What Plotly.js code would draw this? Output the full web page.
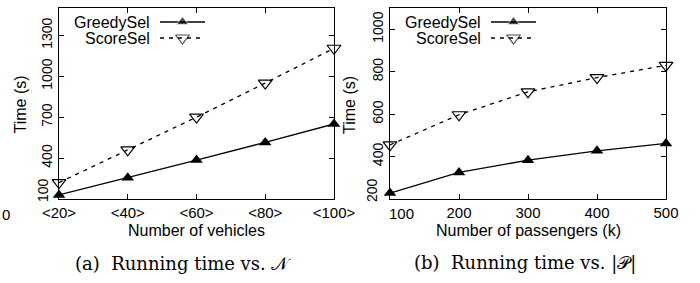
<!DOCTYPE html>
<html>
<head>
<meta charset="utf-8">
<script src="https://cdn.plot.ly/plotly-3.0.1.min.js"></script>
<style>
html,body{margin:0;padding:0;background:#fff;}
#chart{width:700px;height:283px;}
</style>
</head>
<body>
<div id="chart"></div>
<script>
// ---- data ----
const vehicleCats = ["<20>", "<40>", "<60>", "<80>", "<100>"];
const greedyVehicles = [130, 255, 385, 515, 650];
const scoreVehicles = [220, 460, 700, 950, 1205];

const passengerVals = [100, 200, 300, 400, 500];
const greedyPassengers = [228, 325, 383, 427, 462];
const scorePassengers = [455, 597, 705, 772, 830];

const yTicksA = [100, 400, 700, 1000, 1300];
const yTicksB = [200, 400, 600, 800, 1000];
const seriesNames = ["GreedySel", "ScoreSel"];
const captions = ["(a)  Running time vs. \uD835\uDCA9", "(b)  Running time vs. |\uD835\uDCAB|"];
const xTitles = ["Number of vehicles", "Number of passengers (k)"];
const yTitle = "Time (s)";

// ---- layout helpers (pixel geometry) ----
const W = 700, H = 283;
const px = v => v / W;
const py = v => 1 - v / H;
const FONT = "'Liberation Sans', Arial, Helvetica, sans-serif";
const lineW = 1.3;
const greedyMarker = {symbol: "triangle-up", size: 11, color: "#000"};
const scoreMarker = {symbol: "triangle-down-open", size: 12, color: "#000", line: {width: 1.2, color: "#000"}};
const dashStyle = "4px,5px";

const traces = [
  {x: vehicleCats, y: greedyVehicles, xaxis: "x", yaxis: "y", mode: "lines+markers", name: seriesNames[0],
   line: {color: "#000", width: lineW}, marker: greedyMarker, showlegend: false, cliponaxis: false},
  {x: vehicleCats, y: scoreVehicles, xaxis: "x", yaxis: "y", mode: "lines+markers", name: seriesNames[1],
   line: {color: "#000", width: lineW, dash: dashStyle}, marker: scoreMarker, showlegend: false, cliponaxis: false},
  {x: passengerVals, y: greedyPassengers, xaxis: "x2", yaxis: "y2", mode: "lines+markers", name: seriesNames[0],
   line: {color: "#000", width: lineW}, marker: greedyMarker, showlegend: false, cliponaxis: false},
  {x: passengerVals, y: scorePassengers, xaxis: "x2", yaxis: "y2", mode: "lines+markers", name: seriesNames[1],
   line: {color: "#000", width: lineW, dash: dashStyle}, marker: scoreMarker, showlegend: false, cliponaxis: false}
];

// legend samples drawn on a hidden pixel-space overlay axis
const legendSpec = [
  {textRight: 152, x0: 160, x1: 205, rows: [22, 38]},
  {textRight: 483, x0: 491, x1: 536, rows: [22, 38]}
];
const annotations = [];
legendSpec.forEach(ls => {
  ls.rows.forEach((ry, i) => {
    const mk = i === 0 ? greedyMarker : scoreMarker;
    traces.push({
      x: [ls.x0, (ls.x0 + ls.x1) / 2, ls.x1], y: [ry, ry, ry], xaxis: "x3", yaxis: "y3",
      mode: "lines+markers", showlegend: false, hoverinfo: "skip",
      line: {color: "#000", width: lineW, dash: i === 0 ? "solid" : dashStyle},
      marker: Object.assign({}, mk, {size: [0, mk.size, 0]})
    });
    annotations.push({xref: "paper", yref: "paper", x: px(ls.textRight), y: py(ry), xanchor: "right", yanchor: "middle",
      text: seriesNames[i], showarrow: false, font: {family: FONT, size: 16, color: "#000"}});
  });
});

// axis titles
annotations.push({xref: "paper", yref: "paper", x: px(196.5), y: py(230), text: xTitles[0], showarrow: false,
  xanchor: "center", yanchor: "middle", font: {family: FONT, size: 16, color: "#000"}});
annotations.push({xref: "paper", yref: "paper", x: px(528), y: py(230), text: xTitles[1], showarrow: false,
  xanchor: "center", yanchor: "middle", font: {family: FONT, size: 16, color: "#000"}});
annotations.push({xref: "paper", yref: "paper", x: px(20.5), y: py(105), text: yTitle, textangle: -90, showarrow: false,
  xanchor: "center", yanchor: "middle", font: {family: FONT, size: 16, color: "#000"}});
annotations.push({xref: "paper", yref: "paper", x: px(350), y: py(105), text: yTitle, textangle: -90, showarrow: false,
  xanchor: "center", yanchor: "middle", font: {family: FONT, size: 16, color: "#000"}});
// captions
annotations.push({xref: "paper", yref: "paper", x: px(183), y: py(263), text: captions[0], showarrow: false,
  xanchor: "center", yanchor: "middle", font: {family: "'DejaVu Serif', serif", size: 18, color: "#000"}});
annotations.push({xref: "paper", yref: "paper", x: px(525), y: py(263), text: captions[1], showarrow: false,
  xanchor: "center", yanchor: "middle", font: {family: "'DejaVu Serif', serif", size: 18, color: "#000"}});
// stray label from neighbouring figure
annotations.push({xref: "paper", yref: "paper", x: px(0), y: py(214), text: "0", showarrow: false,
  xanchor: "left", yanchor: "middle", font: {family: FONT, size: 15, color: "#000"}});
// shifted first tick labels (as in the reference)
annotations.push({xref: "paper", yref: "y", x: px(43), y: yTicksA[0], yshift: 9, text: String(yTicksA[0]), textangle: -90,
  showarrow: false, xanchor: "center", yanchor: "middle", font: {family: FONT, size: 14, color: "#000"}});
annotations.push({xref: "paper", yref: "y2", x: px(372), y: yTicksB[0], yshift: 9, text: String(yTicksB[0]), textangle: -90,
  showarrow: false, xanchor: "center", yanchor: "middle", font: {family: FONT, size: 14, color: "#000"}});
annotations.push({xref: "x2", yref: "paper", x: passengerVals[0], xshift: 11, y: py(213), text: String(passengerVals[0]),
  showarrow: false, xanchor: "center", yanchor: "middle", font: {family: FONT, size: 15, color: "#000"}});

const axisCommon = {
  showline: true, linecolor: "#000", linewidth: lineW, mirror: "ticks",
  ticks: "inside", ticklen: 5, tickwidth: 1, tickcolor: "#000",
  showgrid: false, zeroline: false, fixedrange: true,
  tickfont: {family: FONT, size: 14, color: "#000"}
};
const xTickFont = {family: FONT, size: 15, color: "#000"};
const yDomain = [py(199), py(8)];

const layout = {
  width: W, height: H,
  margin: {l: 0, r: 0, t: 0, b: 0},
  paper_bgcolor: "#fff", plot_bgcolor: "rgba(0,0,0,0)",
  showlegend: false,
  xaxis: Object.assign({}, axisCommon, {domain: [px(59), px(334)], anchor: "y", type: "category",
    range: [0, vehicleCats.length - 1], categoryorder: "array", categoryarray: vehicleCats, tickfont: xTickFont}),
  yaxis: Object.assign({}, axisCommon, {domain: yDomain, anchor: "x", range: [100, 1500],
    tickvals: yTicksA, ticktext: yTicksA.map((v, i) => i === 0 ? "" : String(v)), tickangle: -90}),
  xaxis2: Object.assign({}, axisCommon, {domain: [px(390), px(666)], anchor: "y2", range: [100, 500],
    tickvals: passengerVals, ticktext: passengerVals.map((v, i) => i === 0 ? "" : String(v)), tickfont: xTickFont}),
  yaxis2: Object.assign({}, axisCommon, {domain: yDomain, anchor: "x2", range: [200, 1100],
    tickvals: yTicksB, ticktext: yTicksB.map((v, i) => i === 0 ? "" : String(v)), tickangle: -90}),
  xaxis3: {domain: [0, 1], range: [0, W], visible: false, fixedrange: true, anchor: "y3"},
  yaxis3: {domain: [0, 1], range: [H, 0], visible: false, fixedrange: true, anchor: "x3"},
  annotations: annotations
};

Plotly.newPlot("chart", traces, layout, {staticPlot: true, displayModeBar: false});
</script>
</body>
</html>
